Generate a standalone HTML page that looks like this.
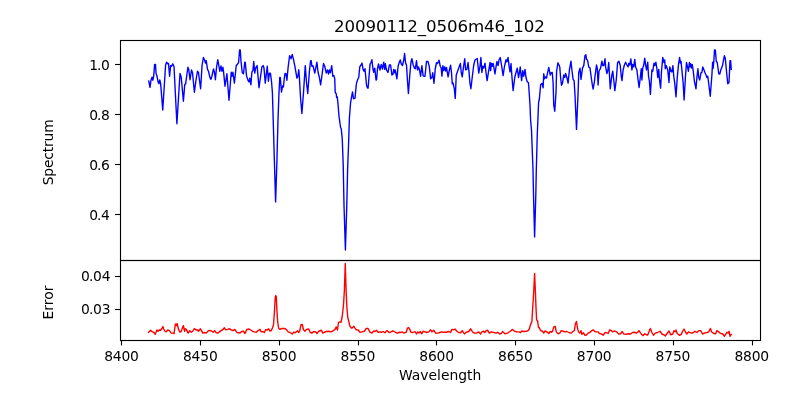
<!DOCTYPE html>
<html lang="en"><head><meta charset="utf-8"><title>20090112_0506m46_102</title>
<style>html,body{margin:0;padding:0;background:#fff;overflow:hidden}svg{display:block;will-change:transform}text{font-family:'DejaVu Sans','Liberation Sans',sans-serif;fill:#000}</style></head><body>
<svg width="800" height="400" viewBox="0 0 800 400">
<rect width="800" height="400" fill="#fff"/>
<defs><clipPath id="c1"><rect x="120.5" y="40.5" width="640.0" height="220.0"/></clipPath><clipPath id="c2"><rect x="120.5" y="260.5" width="640.0" height="80.0"/></clipPath></defs>
<polyline clip-path="url(#c1)" fill="none" stroke="#0000ff" stroke-width="1.39" stroke-linejoin="round" stroke-linecap="square" points="148.75,81.00 150.00,87.40 151.00,80.25 152.00,77.25 152.90,80.25 153.75,75.60 154.60,64.40 155.50,64.40 156.00,73.10 157.00,76.25 158.10,81.90 158.90,83.75 159.75,80.00 160.60,83.10 162.75,110.00 165.60,65.00 166.60,62.25 167.75,63.75 168.50,63.50 169.60,76.25 170.60,65.60 171.50,66.25 172.75,63.75 174.00,66.50 176.90,123.75 180.00,73.50 181.25,77.50 183.40,101.25 184.75,84.60 185.60,83.90 187.90,67.25 188.75,69.40 190.00,79.75 191.50,70.00 192.50,72.75 194.40,92.25 196.00,80.00 197.50,71.25 198.50,72.75 200.60,88.75 202.10,65.00 203.40,57.50 204.60,60.00 205.40,63.10 206.25,60.60 207.50,69.40 208.50,71.25 209.75,76.90 210.90,79.40 211.90,76.25 213.50,69.00 214.50,72.50 215.40,79.75 216.50,67.50 217.75,59.75 218.75,65.00 219.75,71.25 221.00,66.00 221.90,71.25 222.90,67.25 223.50,71.25 225.00,86.25 226.90,73.75 229.00,100.25 231.25,72.25 232.10,76.25 232.90,72.25 234.40,83.10 236.25,65.50 237.50,64.20 238.60,62.50 239.60,49.90 240.25,50.00 241.00,61.25 242.25,72.75 243.50,73.75 244.75,62.25 245.30,62.50 246.50,75.60 248.10,80.60 249.00,81.90 249.75,78.10 250.90,84.80 251.90,71.90 252.90,70.60 253.75,61.50 254.75,73.10 255.60,68.10 257.10,65.60 259.00,87.75 261.90,66.90 263.10,65.60 264.00,68.10 265.25,83.10 267.25,66.25 268.40,81.25 269.40,73.10 270.40,73.10 271.50,81.25 272.40,92.50 273.20,120.00 274.50,165.00 275.60,201.90 276.80,165.00 278.00,120.00 278.90,95.00 279.75,77.50 280.30,77.50 281.50,92.10 282.60,86.00 283.40,87.00 284.40,77.50 285.00,73.50 286.00,73.75 286.90,80.25 288.10,67.50 289.60,55.60 291.00,58.75 292.25,54.40 293.50,59.40 295.00,66.90 296.90,78.10 297.90,76.25 298.75,69.75 299.40,77.50 300.60,98.75 301.90,113.50 303.50,92.50 305.25,65.60 306.50,82.50 307.75,93.50 309.40,71.25 310.60,60.60 311.20,60.60 311.90,66.25 313.10,66.00 314.75,73.10 316.00,66.90 316.90,62.25 318.10,72.50 319.40,77.50 320.60,84.80 321.50,78.75 323.50,63.50 324.75,66.25 326.25,73.10 327.50,70.00 328.50,74.00 329.40,70.00 330.40,72.75 331.70,65.60 332.80,76.25 333.80,75.50 334.75,78.75 335.20,92.50 336.25,93.75 336.60,97.50 337.30,97.00 338.10,105.00 339.00,116.25 340.60,127.50 341.25,128.75 342.25,138.75 343.20,165.00 344.00,205.00 345.40,250.00 346.80,205.00 347.60,170.00 348.75,138.75 349.40,118.00 350.60,102.50 352.50,91.90 353.50,98.75 355.00,98.10 356.25,85.00 356.70,82.50 357.75,79.40 358.75,77.50 359.75,66.90 361.00,65.00 362.00,63.10 363.10,69.40 364.00,71.25 365.00,68.75 366.50,85.00 367.50,88.10 368.10,88.10 370.00,64.40 371.00,62.50 371.90,59.75 372.90,68.75 373.75,72.25 374.75,68.10 376.00,80.00 376.60,79.75 377.50,68.75 378.50,64.00 380.00,70.00 381.25,64.40 382.50,69.00 383.75,62.25 384.75,69.40 385.40,63.75 386.50,70.00 387.90,72.50 389.40,65.00 390.60,65.00 391.90,75.00 392.90,74.40 393.75,69.40 394.75,72.75 395.25,70.00 396.90,78.75 398.10,66.25 399.00,63.10 400.25,60.00 401.25,63.75 402.50,65.60 403.75,60.00 404.60,53.50 405.60,63.10 406.50,65.00 407.50,81.25 408.40,93.50 410.00,72.50 411.00,61.90 411.90,58.75 413.10,64.40 414.40,68.10 415.40,68.75 416.50,60.60 417.50,70.00 418.50,66.90 419.40,69.40 420.60,76.25 421.90,65.60 423.10,75.60 424.00,76.25 425.00,76.25 426.50,61.40 428.00,61.50 429.30,66.60 430.60,78.75 431.90,77.50 432.75,72.75 434.00,83.30 435.25,68.75 436.50,62.75 437.50,63.50 439.00,60.25 440.25,66.25 441.25,68.10 441.90,76.25 442.90,65.60 443.75,70.60 444.75,66.90 445.60,71.00 446.50,67.50 448.10,76.90 449.40,70.00 450.60,65.25 451.50,72.50 452.25,83.75 453.10,83.10 454.40,89.40 455.25,98.50 456.25,75.00 457.25,72.25 458.75,68.10 460.40,63.50 461.25,72.50 462.25,76.90 463.50,66.90 464.75,58.75 465.60,69.75 466.90,69.40 468.10,62.50 469.00,71.90 470.00,83.75 470.90,88.75 472.50,75.00 473.75,65.00 475.00,60.00 477.25,58.50 478.75,73.10 480.00,66.25 480.90,57.50 481.90,72.50 482.75,66.25 483.75,68.10 485.00,63.10 486.00,72.50 487.10,80.60 488.50,71.90 490.00,62.50 490.60,70.60 491.50,63.10 492.25,66.25 493.10,63.50 494.00,68.10 495.00,74.00 496.00,66.90 496.90,61.50 498.10,65.60 499.00,60.00 500.25,57.50 501.50,65.00 503.10,75.60 504.40,66.90 506.00,59.75 506.90,61.90 508.10,57.50 509.00,65.60 510.00,71.90 511.00,63.50 511.90,76.25 513.10,90.60 514.75,77.50 516.00,72.50 517.25,68.10 518.50,77.50 519.40,72.75 520.25,67.00 521.60,80.60 522.75,70.60 523.75,76.25 525.00,69.40 526.00,77.50 527.25,81.90 528.40,82.50 528.75,86.25 530.00,105.00 530.60,120.00 531.50,130.00 533.00,170.00 533.50,195.00 534.60,236.90 535.80,195.00 536.30,170.00 537.30,134.00 538.20,112.00 538.60,102.50 539.40,98.75 540.60,85.00 541.50,83.75 542.25,83.50 543.10,87.75 543.75,73.75 544.60,78.75 545.60,76.90 546.50,78.10 547.50,73.10 548.75,67.50 550.25,75.00 551.25,72.75 552.25,72.50 553.10,82.50 553.75,105.00 554.75,111.25 556.00,92.50 556.60,71.25 557.90,62.75 559.00,65.00 559.75,66.90 560.60,77.50 561.50,85.20 562.50,83.10 563.75,75.00 564.75,77.50 565.60,73.50 566.90,77.50 568.10,83.10 569.40,70.00 571.00,61.25 571.90,70.00 573.10,79.40 574.10,80.60 575.00,95.00 576.50,129.40 578.10,92.50 578.75,72.50 580.00,68.10 581.00,79.40 582.50,68.10 583.75,65.60 585.00,55.60 585.90,54.75 586.50,59.40 587.50,60.00 588.75,66.90 590.00,68.10 591.25,77.50 592.25,84.40 593.10,89.00 594.40,81.90 595.00,76.25 596.50,65.00 597.25,68.10 598.10,85.00 599.00,71.25 600.60,68.10 601.90,61.25 602.75,65.60 603.75,65.60 605.00,58.75 605.60,66.90 606.90,73.50 607.90,70.00 608.75,62.50 609.75,80.00 610.25,88.75 611.90,75.00 612.75,71.25 613.75,80.00 614.85,90.60 616.25,80.00 617.60,62.50 618.90,61.25 620.20,65.30 621.25,76.25 622.00,80.60 623.10,70.00 624.40,65.00 625.60,62.25 626.90,65.00 628.10,66.90 628.75,63.50 629.75,65.00 630.90,59.00 631.90,70.00 632.75,64.40 633.75,66.90 634.75,59.40 635.60,66.90 636.90,70.00 638.10,80.00 639.10,87.50 640.00,80.00 641.25,68.75 641.90,80.00 642.75,68.10 643.75,65.00 644.75,58.10 645.60,65.00 646.50,70.00 647.75,62.25 648.50,76.25 649.40,81.25 650.40,94.40 651.90,70.00 652.75,71.25 654.00,63.10 654.75,65.60 655.90,62.25 656.90,68.75 657.75,77.50 658.75,69.40 659.40,78.75 660.60,88.10 661.50,71.25 662.75,57.50 664.00,62.50 664.75,60.00 665.25,68.75 666.25,65.60 667.75,70.00 669.00,82.50 669.75,66.90 671.00,71.25 671.90,71.90 672.90,65.60 673.75,76.25 674.75,83.10 676.00,96.90 677.25,77.50 678.50,64.40 679.60,57.50 680.40,63.10 681.00,61.25 681.90,70.00 683.10,82.50 684.10,100.00 685.40,77.50 686.50,62.50 687.50,66.90 688.40,71.25 689.40,62.50 690.00,66.90 690.60,63.75 691.50,68.10 692.25,64.40 693.10,70.00 694.40,81.25 696.00,88.75 696.90,77.50 697.90,68.75 698.75,77.50 699.75,80.00 701.00,72.75 701.90,72.50 702.75,66.90 704.00,70.00 705.00,72.75 706.00,75.00 706.90,77.50 707.75,76.25 708.75,83.75 710.25,96.25 711.90,75.00 712.60,62.20 713.10,68.50 713.75,62.50 714.50,50.00 715.40,50.25 716.25,61.25 717.25,62.50 718.75,73.75 719.75,74.00 721.00,69.40 722.50,65.60 723.40,60.60 724.40,55.60 725.25,58.10 726.25,68.75 727.75,83.75 729.00,82.50 730.00,60.60 730.60,60.60 731.25,69.40"/>
<polyline clip-path="url(#c2)" fill="none" stroke="#ff0000" stroke-width="1.39" stroke-linejoin="round" stroke-linecap="square" points="148.50,332.25 150.62,330.38 152.50,331.88 153.75,332.25 155.25,334.38 156.88,330.00 158.12,331.25 159.38,330.00 160.62,330.25 161.88,328.50 162.88,326.50 163.75,329.00 165.00,331.25 166.25,331.88 167.75,330.00 169.38,330.62 171.25,333.12 172.75,333.12 174.00,333.75 175.38,324.00 176.25,325.62 177.12,323.50 178.50,329.38 180.00,332.25 181.25,331.25 183.38,325.62 184.62,331.25 185.25,328.75 186.25,329.38 188.12,333.12 189.75,330.62 191.25,332.25 192.75,331.25 194.38,328.50 196.00,330.00 197.25,329.75 198.50,331.25 200.38,328.75 201.50,330.62 202.75,333.12 204.38,332.50 206.25,333.12 208.12,331.00 209.75,330.38 211.50,331.00 213.12,332.25 214.62,330.62 216.25,332.75 217.75,333.12 219.38,331.88 221.25,330.38 222.75,329.75 224.38,327.75 225.62,329.75 227.50,329.38 229.75,328.75 231.25,330.00 233.12,330.62 234.75,329.38 236.25,331.50 236.88,332.50 238.75,332.75 240.00,333.12 241.50,331.50 243.50,331.25 245.00,333.50 246.88,329.38 249.00,329.00 250.62,330.00 252.50,331.25 254.38,331.88 256.25,332.25 258.12,330.62 260.00,329.38 261.25,331.88 263.12,331.50 264.38,332.50 265.62,329.75 267.25,330.00 268.50,328.75 270.00,331.00 271.25,330.62 272.50,327.75 273.50,325.00 274.38,312.50 275.25,297.50 275.62,295.62 276.25,296.25 276.88,310.00 277.75,322.50 278.75,328.50 280.00,329.38 281.88,328.50 284.38,328.50 286.25,329.38 288.12,331.88 290.00,332.50 292.25,334.00 293.75,332.25 295.62,332.50 297.50,330.62 298.75,332.50 299.75,330.62 301.00,324.75 302.25,324.38 303.50,329.75 305.00,331.25 306.50,329.38 308.75,329.00 310.25,332.50 311.88,333.12 313.75,331.50 315.62,331.88 316.88,333.50 318.75,331.25 321.50,330.25 322.75,333.12 324.38,332.25 326.25,331.50 328.75,331.25 330.62,331.88 332.50,331.25 335.00,329.38 336.25,326.88 337.50,330.00 338.50,322.50 339.75,321.88 341.00,322.25 342.25,316.25 343.50,305.00 344.40,290.00 345.25,263.50 346.10,290.00 346.90,307.50 347.75,317.50 348.75,321.25 349.75,325.62 351.25,328.12 352.50,327.75 353.75,326.25 355.00,328.12 356.25,329.75 358.12,330.00 360.00,332.25 361.88,331.88 364.38,331.25 366.25,328.50 368.12,328.50 369.75,331.88 371.88,333.12 373.75,331.00 375.00,331.50 376.50,330.25 378.12,332.25 380.00,331.88 381.88,332.25 383.12,331.50 385.00,332.75 386.88,330.62 388.75,332.25 390.00,332.50 392.25,331.00 393.75,331.25 395.62,332.50 397.50,333.12 399.38,332.25 400.62,332.50 402.50,331.88 403.75,333.12 406.25,332.25 407.50,328.12 408.50,327.50 409.75,329.38 411.00,332.25 413.12,332.50 415.00,331.50 416.50,334.00 417.75,331.88 419.00,333.12 420.25,331.50 421.88,333.75 423.12,331.25 425.00,331.88 426.88,332.50 428.75,331.88 430.62,329.75 431.88,331.88 433.75,330.25 435.62,333.12 437.50,333.12 439.38,332.75 441.25,331.88 443.75,332.25 446.25,332.25 448.75,331.50 450.62,332.50 451.88,329.38 453.75,329.75 455.00,329.00 456.88,331.25 458.75,332.50 460.62,332.75 462.25,330.62 464.38,334.00 466.25,332.25 468.75,331.50 470.62,328.75 472.50,331.88 474.38,333.12 476.50,333.12 478.75,331.88 480.62,334.00 481.88,331.88 483.75,331.25 484.75,332.50 486.25,330.62 487.50,330.25 489.38,333.12 491.25,331.88 493.75,332.50 496.25,333.12 497.75,332.25 499.75,334.00 501.25,333.50 502.50,331.50 505.00,333.75 507.50,333.12 510.00,331.50 512.50,329.38 514.38,331.25 516.88,331.88 518.75,331.88 520.62,332.50 521.88,331.00 523.75,331.50 526.25,331.25 528.12,330.62 529.38,328.75 530.62,324.38 531.88,321.88 532.62,308.75 533.70,292.00 534.60,273.50 535.40,292.00 536.00,307.50 536.62,320.00 537.50,320.62 538.50,327.50 539.38,327.75 540.62,330.62 542.50,331.25 543.75,333.12 545.00,331.00 546.88,331.88 548.75,333.50 550.25,331.50 551.88,332.25 552.75,330.62 553.75,326.88 555.25,326.50 556.25,331.88 558.12,333.75 559.75,333.12 561.25,330.62 563.12,331.25 565.00,331.88 566.88,331.50 569.38,332.75 571.25,333.12 572.75,331.50 574.38,330.62 575.38,323.75 576.50,321.50 577.50,328.12 578.50,331.88 579.75,333.12 581.00,330.62 581.88,334.38 583.50,332.75 584.75,335.25 586.50,335.00 588.12,333.12 590.00,332.25 591.88,330.62 593.12,329.75 594.75,331.50 596.50,331.88 598.12,331.88 599.38,333.50 601.25,333.75 603.12,335.25 605.00,332.75 606.25,332.50 608.12,333.50 609.75,329.75 611.25,330.62 612.75,331.88 614.38,331.00 616.25,331.62 618.75,334.00 620.62,333.75 622.25,331.50 623.75,334.00 626.25,334.38 628.12,333.75 630.62,334.00 632.50,332.50 634.38,332.25 636.25,333.12 637.75,332.25 639.00,330.62 640.62,333.12 642.75,335.62 644.75,333.75 646.25,334.75 647.75,335.00 649.38,330.62 650.38,328.50 651.88,332.50 653.50,335.25 655.25,333.12 657.50,332.50 660.00,331.25 661.88,334.00 663.75,334.75 665.25,336.00 666.88,333.75 669.00,331.00 670.62,334.75 672.75,334.00 674.00,330.62 675.00,331.88 676.00,330.00 677.25,333.50 679.38,335.25 681.25,334.38 682.75,331.00 684.00,329.00 685.62,332.25 686.88,334.00 688.50,331.88 690.00,332.75 692.50,333.12 695.00,331.25 696.88,332.50 698.75,330.62 700.62,330.62 702.50,334.00 704.38,333.12 706.88,332.50 708.75,331.88 710.38,328.50 711.88,332.25 713.75,333.50 715.62,333.75 716.88,330.62 718.75,331.88 720.62,333.50 722.50,333.75 724.38,336.25 725.62,334.38 726.88,332.25 728.12,333.12 729.12,331.25 730.00,336.25 731.25,334.38"/>
<g stroke="#000" stroke-width="1.11" fill="none">
<line x1="121.5" y1="340.5" x2="121.5" y2="345.4"/>
<line x1="200.5" y1="340.5" x2="200.5" y2="345.4"/>
<line x1="279.5" y1="340.5" x2="279.5" y2="345.4"/>
<line x1="358.5" y1="340.5" x2="358.5" y2="345.4"/>
<line x1="436.5" y1="340.5" x2="436.5" y2="345.4"/>
<line x1="515.5" y1="340.5" x2="515.5" y2="345.4"/>
<line x1="594.5" y1="340.5" x2="594.5" y2="345.4"/>
<line x1="673.5" y1="340.5" x2="673.5" y2="345.4"/>
<line x1="752.5" y1="340.5" x2="752.5" y2="345.4"/>
<line x1="120.5" y1="64.5" x2="115.1" y2="64.5"/>
<line x1="120.5" y1="114.5" x2="115.1" y2="114.5"/>
<line x1="120.5" y1="164.5" x2="115.1" y2="164.5"/>
<line x1="120.5" y1="214.5" x2="115.1" y2="214.5"/>
<line x1="120.5" y1="276.5" x2="115.1" y2="276.5"/>
<line x1="120.5" y1="309.5" x2="115.1" y2="309.5"/>
<rect x="120.5" y="40.5" width="640.0" height="220.0"/>
<rect x="120.5" y="260.5" width="640.0" height="80.0"/>
</g>
<g font-size="13.89px">
<text x="121.55" y="360.9" textLength="34.8" lengthAdjust="spacing" text-anchor="middle">8400</text>
<text x="200.33" y="360.9" textLength="34.8" lengthAdjust="spacing" text-anchor="middle">8450</text>
<text x="279.11" y="360.9" textLength="34.8" lengthAdjust="spacing" text-anchor="middle">8500</text>
<text x="357.89" y="360.9" textLength="34.8" lengthAdjust="spacing" text-anchor="middle">8550</text>
<text x="436.67" y="360.9" textLength="34.8" lengthAdjust="spacing" text-anchor="middle">8600</text>
<text x="515.45" y="360.9" textLength="34.8" lengthAdjust="spacing" text-anchor="middle">8650</text>
<text x="594.23" y="360.9" textLength="34.8" lengthAdjust="spacing" text-anchor="middle">8700</text>
<text x="673.01" y="360.9" textLength="34.8" lengthAdjust="spacing" text-anchor="middle">8750</text>
<text x="751.79" y="360.9" textLength="34.8" lengthAdjust="spacing" text-anchor="middle">8800</text>
<text x="109.9" y="69.50" dx="0 -0.95 -0.45" text-anchor="end">1.0</text>
<text x="109.9" y="119.50" dx="0 -0.95 -0.45" text-anchor="end">0.8</text>
<text x="109.9" y="169.50" dx="0 -0.95 -0.45" text-anchor="end">0.6</text>
<text x="109.9" y="219.50" dx="0 -0.95 -0.45" text-anchor="end">0.4</text>
<text x="110.6" y="280.80" dx="0 -0.95 -0.45" text-anchor="end">0.04</text>
<text x="110.6" y="313.80" dx="0 -0.95 -0.45" text-anchor="end">0.03</text>
<text x="440.2" y="380" text-anchor="middle">Wavelength</text>
<text transform="translate(53,152.3) rotate(-90)" textLength="66" lengthAdjust="spacing" text-anchor="middle">Spectrum</text>
<text transform="translate(53,302.5) rotate(-90)" text-anchor="middle">Error</text>
</g>
<text x="439.4" y="31.9" font-size="16.67px" textLength="210.8" lengthAdjust="spacing" text-anchor="middle">20090112_0506m46_102</text>
</svg></body></html>
